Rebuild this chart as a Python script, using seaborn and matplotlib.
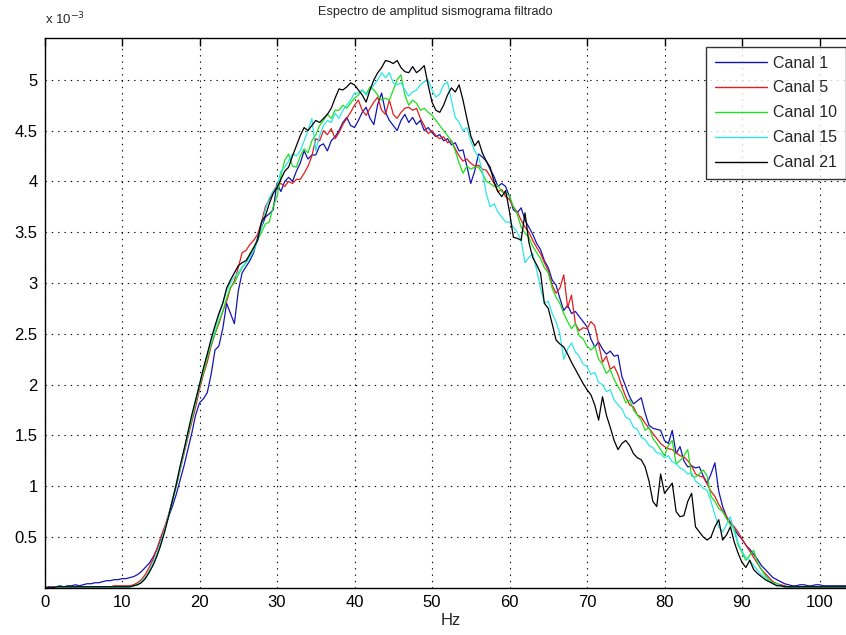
import numpy as np
import pandas as pd
import matplotlib
matplotlib.use("Agg")
import matplotlib.pyplot as plt
import seaborn as sns

# Amplitude spectrum of filtered seismogram (units of 1e-3)
freq_hz = np.arange(0, 104.5, 0.5)
channel_names = ["Canal 1", "Canal 5", "Canal 10", "Canal 15", "Canal 21"]
channel_colors = ["#1414b4", "#e01e1e", "#1ee01e", "#2ee6e6", "#000000"]

canal_1 = [
    0.00, 0.01, 0.01, 0.01, 0.02, 0.01, 0.02, 0.02, 0.03, 0.02, 0.03, 0.04, 0.04, 0.05, 0.05, 0.06, 0.07, 0.07, 0.08, 0.08,
    0.09, 0.09, 0.10, 0.11, 0.13, 0.16, 0.20, 0.24, 0.30, 0.38, 0.47, 0.58, 0.70, 0.80, 0.92, 1.06, 1.20, 1.36, 1.52, 1.70,
    1.82, 1.86, 1.92, 2.10, 2.34, 2.38, 2.55, 2.80, 2.70, 2.60, 2.92, 3.10, 3.16, 3.22, 3.30, 3.45, 3.55, 3.65, 3.68, 3.72,
    3.98, 3.90, 4.00, 4.04, 4.00, 4.10, 4.18, 4.30, 4.22, 4.26, 4.26, 4.35, 4.37, 4.30, 4.40, 4.44, 4.50, 4.58, 4.63, 4.55,
    4.53, 4.60, 4.68, 4.73, 4.62, 4.56, 4.76, 4.87, 4.68, 4.60, 4.55, 4.50, 4.60, 4.66, 4.58, 4.63, 4.56, 4.60, 4.50, 4.53,
    4.48, 4.44, 4.46, 4.40, 4.42, 4.36, 4.38, 4.30, 4.31, 4.15, 3.98, 4.10, 4.27, 4.24, 4.20, 4.12, 4.05, 3.95, 3.98, 3.95,
    3.85, 3.72, 3.69, 3.74, 3.62, 3.55, 3.48, 3.39, 3.33, 3.22, 3.15, 3.03, 2.98, 2.85, 2.73, 2.78, 2.70, 2.72, 2.67, 2.62,
    2.57, 2.45, 2.37, 2.42, 2.35, 2.30, 2.33, 2.28, 2.29, 2.08, 1.98, 1.88, 1.81, 1.84, 1.87, 1.72, 1.60, 1.57, 1.56, 1.55,
    1.45, 1.42, 1.55, 1.32, 1.39, 1.25, 1.19, 1.20, 1.18, 1.19, 1.10, 1.03, 1.12, 1.23, 0.95, 0.80, 0.70, 0.63, 0.58, 0.52,
    0.48, 0.42, 0.38, 0.33, 0.28, 0.22, 0.18, 0.14, 0.10, 0.08, 0.06, 0.04, 0.03, 0.02, 0.02, 0.03, 0.03, 0.02, 0.02, 0.03,
    0.03, 0.02, 0.02, 0.02, 0.02, 0.02, 0.02, 0.02, 0.02,
]
canal_5 = [
    0.00, 0.00, 0.01, 0.01, 0.01, 0.01, 0.01, 0.01, 0.01, 0.01, 0.01, 0.01, 0.01, 0.01, 0.01, 0.01, 0.01, 0.01, 0.02, 0.02,
    0.02, 0.02, 0.02, 0.03, 0.05, 0.08, 0.13, 0.20, 0.28, 0.38, 0.50, 0.60, 0.72, 0.86, 1.00, 1.16, 1.32, 1.48, 1.63, 1.78,
    1.95, 2.10, 2.22, 2.38, 2.50, 2.60, 2.72, 2.82, 2.95, 3.02, 3.15, 3.30, 3.32, 3.38, 3.42, 3.48, 3.60, 3.75, 3.82, 3.90,
    3.96, 3.98, 3.95, 4.00, 3.98, 4.02, 4.02, 4.08, 4.15, 4.25, 4.42, 4.40, 4.50, 4.46, 4.52, 4.42, 4.48, 4.56, 4.62, 4.68,
    4.75, 4.80, 4.70, 4.65, 4.72, 4.78, 4.83, 4.70, 4.66, 4.80, 4.66, 4.62, 4.68, 4.72, 4.73, 4.70, 4.72, 4.62, 4.55, 4.47,
    4.50, 4.45, 4.42, 4.44, 4.38, 4.40, 4.32, 4.25, 4.20, 4.22, 4.18, 4.15, 4.16, 4.12, 4.11, 4.05, 3.98, 3.90, 3.92, 3.85,
    3.82, 3.75, 3.70, 3.62, 3.55, 3.50, 3.42, 3.35, 3.29, 3.20, 3.12, 2.98, 2.90, 2.95, 3.08, 2.76, 2.88, 2.60, 2.53, 2.56,
    2.55, 2.62, 2.58, 2.40, 2.22, 2.28, 2.15, 2.18, 2.10, 1.98, 1.88, 1.80, 1.78, 1.70, 1.68, 1.62, 1.57, 1.52, 1.47, 1.42,
    1.39, 1.37, 1.36, 1.33, 1.30, 1.29, 1.25, 1.20, 1.12, 1.10, 1.09, 1.02, 0.95, 0.90, 0.82, 0.76, 0.70, 0.65, 0.60, 0.55,
    0.48, 0.42, 0.36, 0.30, 0.24, 0.18, 0.14, 0.10, 0.06, 0.04, 0.03, 0.02, 0.01, 0.01, 0.01, 0.01, 0.01, 0.01, 0.01, 0.01,
    0.01, 0.01, 0.01, 0.01, 0.01, 0.01, 0.01, 0.01, 0.01,
]
canal_10 = [
    0.00, 0.00, 0.00, 0.01, 0.01, 0.01, 0.01, 0.01, 0.01, 0.01, 0.01, 0.01, 0.01, 0.01, 0.01, 0.01, 0.01, 0.01, 0.01, 0.01,
    0.01, 0.01, 0.01, 0.02, 0.03, 0.06, 0.10, 0.16, 0.24, 0.33, 0.44, 0.56, 0.70, 0.85, 1.00, 1.17, 1.34, 1.50, 1.66, 1.82,
    1.98, 2.12, 2.26, 2.40, 2.50, 2.62, 2.72, 2.85, 2.96, 3.00, 3.08, 3.15, 3.20, 3.29, 3.35, 3.42, 3.50, 3.58, 3.60, 3.75,
    3.85, 4.05, 4.21, 4.27, 4.15, 4.14, 4.25, 4.32, 4.28, 4.40, 4.46, 4.55, 4.60, 4.66, 4.62, 4.70, 4.70, 4.75, 4.72, 4.77,
    4.82, 4.85, 4.90, 4.86, 4.93, 4.90, 4.85, 4.80, 4.82, 4.80, 4.90, 5.00, 5.05, 4.85, 4.75, 4.80, 4.77, 4.70, 4.72, 4.68,
    4.65, 4.60, 4.55, 4.50, 4.45, 4.40, 4.30, 4.18, 4.08, 4.15, 4.12, 4.14, 4.14, 4.08, 4.00, 3.98, 3.95, 3.96, 3.90, 3.88,
    3.86, 3.75, 3.68, 3.55, 3.49, 3.45, 3.36, 3.30, 3.24, 3.15, 3.10, 2.95, 2.86, 2.80, 2.70, 2.62, 2.55, 2.60, 2.48, 2.45,
    2.38, 2.34, 2.38, 2.25, 2.20, 2.11, 2.15, 2.05, 1.98, 1.92, 1.82, 1.85, 1.75, 1.70, 1.65, 1.55, 1.58, 1.47, 1.42, 1.36,
    1.30, 1.40, 1.45, 1.22, 1.25, 1.30, 1.36, 1.10, 1.09, 1.12, 1.16, 1.10, 0.90, 0.85, 0.78, 0.75, 0.68, 0.62, 0.58, 0.42,
    0.35, 0.27, 0.32, 0.37, 0.25, 0.18, 0.12, 0.08, 0.05, 0.04, 0.02, 0.01, 0.01, 0.01, 0.01, 0.01, 0.01, 0.01, 0.01, 0.01,
    0.01, 0.01, 0.01, 0.01, 0.01, 0.01, 0.01, 0.01, 0.01,
]
canal_15 = [
    0.00, 0.00, 0.00, 0.01, 0.01, 0.01, 0.01, 0.01, 0.01, 0.01, 0.01, 0.01, 0.01, 0.01, 0.01, 0.01, 0.01, 0.01, 0.01, 0.01,
    0.01, 0.01, 0.01, 0.02, 0.03, 0.06, 0.10, 0.16, 0.24, 0.33, 0.45, 0.57, 0.71, 0.86, 1.02, 1.18, 1.35, 1.52, 1.68, 1.84,
    2.00, 2.15, 2.30, 2.42, 2.55, 2.68, 2.80, 2.92, 3.00, 3.06, 3.10, 3.16, 3.20, 3.25, 3.32, 3.42, 3.55, 3.72, 3.84, 3.90,
    3.95, 4.10, 4.14, 4.20, 4.27, 4.25, 4.30, 4.40, 4.50, 4.62, 4.30, 4.45, 4.55, 4.60, 4.58, 4.67, 4.62, 4.70, 4.75, 4.80,
    4.87, 4.87, 4.90, 4.85, 4.90, 4.95, 5.00, 5.07, 5.02, 5.07, 4.97, 4.95, 4.97, 4.90, 4.84, 4.88, 4.90, 4.95, 4.98, 5.00,
    4.90, 4.83, 4.86, 4.95, 4.98, 4.80, 4.63, 4.58, 4.50, 4.53, 4.40, 4.30, 4.24, 4.10, 3.88, 3.75, 3.78, 3.70, 3.65, 3.60,
    3.60, 3.55, 3.50, 3.42, 3.20, 3.25, 3.29, 3.13, 2.95, 2.80, 2.82, 2.70, 2.62, 2.50, 2.25, 2.35, 2.41, 2.32, 2.28, 2.20,
    2.18, 2.10, 2.12, 2.02, 2.00, 1.93, 1.95, 1.85, 1.80, 1.76, 1.68, 1.66, 1.58, 1.56, 1.48, 1.46, 1.40, 1.38, 1.33, 1.32,
    1.28, 1.30, 1.24, 1.22, 1.18, 1.16, 1.12, 1.13, 1.05, 1.02, 0.98, 0.96, 0.85, 0.72, 0.60, 0.55, 0.62, 0.70, 0.55, 0.44,
    0.36, 0.30, 0.27, 0.22, 0.17, 0.13, 0.10, 0.07, 0.04, 0.03, 0.02, 0.01, 0.01, 0.01, 0.01, 0.01, 0.01, 0.01, 0.01, 0.01,
    0.01, 0.01, 0.01, 0.01, 0.01, 0.01, 0.01, 0.01, 0.01,
]
canal_21 = [
    0.00, 0.00, 0.00, 0.01, 0.01, 0.01, 0.01, 0.01, 0.01, 0.01, 0.01, 0.01, 0.01, 0.01, 0.01, 0.01, 0.01, 0.01, 0.01, 0.01,
    0.01, 0.01, 0.01, 0.02, 0.03, 0.05, 0.09, 0.15, 0.22, 0.31, 0.42, 0.55, 0.70, 0.86, 1.02, 1.20, 1.36, 1.53, 1.70, 1.85,
    2.00, 2.16, 2.30, 2.45, 2.58, 2.70, 2.80, 2.95, 3.03, 3.10, 3.17, 3.20, 3.22, 3.28, 3.35, 3.42, 3.60, 3.66, 3.78, 3.88,
    3.94, 4.02, 4.10, 4.14, 4.25, 4.35, 4.45, 4.53, 4.50, 4.55, 4.60, 4.58, 4.62, 4.66, 4.72, 4.82, 4.91, 4.90, 4.93, 4.97,
    4.95, 4.90, 4.85, 4.78, 4.90, 5.00, 5.07, 5.12, 5.19, 5.18, 5.16, 5.19, 5.12, 5.08, 5.07, 5.13, 5.07, 5.10, 5.14, 4.95,
    4.78, 4.70, 4.68, 4.75, 4.85, 4.92, 4.88, 4.95, 4.80, 4.62, 4.45, 4.35, 4.40, 4.28, 4.20, 4.14, 4.00, 3.90, 3.85, 3.91,
    3.70, 3.45, 3.44, 3.42, 3.69, 3.40, 3.25, 3.18, 3.10, 2.80, 2.75, 2.60, 2.44, 2.40, 2.37, 2.30, 2.22, 2.15, 2.08, 2.01,
    1.95, 1.90, 1.80, 1.65, 1.88, 1.70, 1.58, 1.45, 1.36, 1.42, 1.45, 1.40, 1.32, 1.28, 1.26, 1.19, 1.05, 0.85, 0.80, 1.12,
    0.93, 0.98, 1.03, 0.75, 0.70, 0.71, 0.85, 0.93, 0.60, 0.55, 0.50, 0.47, 0.50, 0.60, 0.67, 0.47, 0.52, 0.60, 0.45, 0.34,
    0.25, 0.20, 0.27, 0.18, 0.14, 0.11, 0.08, 0.06, 0.04, 0.02, 0.02, 0.01, 0.01, 0.01, 0.01, 0.01, 0.01, 0.01, 0.01, 0.01,
    0.01, 0.01, 0.01, 0.01, 0.01, 0.01, 0.01, 0.01, 0.01,
]

series = [canal_1, canal_5, canal_10, canal_15, canal_21]
for s in series:
    assert len(s) == len(freq_hz), len(s)

df = pd.DataFrame({
    "Hz": np.tile(freq_hz, len(series)),
    "amp": np.concatenate([np.asarray(s) for s in series]),
    "canal": np.repeat(channel_names, len(freq_hz)),
})

sns.set_style("white")
plt.rcParams["font.family"] = ["Liberation Sans", "DejaVu Sans"]

fig = plt.figure(figsize=(8.46, 6.35), dpi=100)
W, H = 846, 635
x0, y_bot, y_top = 44.5, 587.8, 38.0
ax_w = 811.5  # right spine falls just outside the canvas, as in the reference
ax = fig.add_axes([x0 / W, (H - y_bot) / H, ax_w / W, (y_bot - y_top) / H])

sns.lineplot(data=df, x="Hz", y="amp", hue="canal", hue_order=channel_names,
             palette=dict(zip(channel_names, channel_colors)), estimator=None,
             sort=False, linewidth=0.9, ax=ax)

ax.set_xlim(0, ax_w / 7.75)
ax.set_ylim(0, (y_bot - y_top) / 101.6)
ax.set_xticks(np.arange(0, 101, 10))
ax.set_yticks([0.5, 1, 1.5, 2, 2.5, 3, 3.5, 4, 4.5, 5])
ax.set_yticklabels(["0.5", "1", "1.5", "2", "2.5", "3", "3.5", "4", "4.5", "5"])
ax.tick_params(direction="in", length=6, width=1, top=True, right=True,
               labelsize=12, colors="black", pad=5)
ax.grid(True, color="black", linestyle=(0, (1.2, 4.5)), linewidth=0.8)
for sp in ax.spines.values():
    sp.set_color("black")
    sp.set_linewidth(1.0)
ax.set_xlabel("Hz", fontsize=12, labelpad=2)
ax.set_ylabel("")

handles, labels = ax.get_legend_handles_labels()
leg = ax.legend(handles, labels, loc="upper right", bbox_to_anchor=(0.9877, 0.984),
                borderaxespad=0, fontsize=11.5, handlelength=3.3, handletextpad=0.36,
                labelspacing=0.62, borderpad=0.55, frameon=True, fancybox=False)
leg.get_frame().set_edgecolor("black")
leg.get_frame().set_linewidth(1.0)
for line in leg.get_lines():
    line.set_linewidth(1.0)

fig.text(435 / W, 1 - 12 / H, "Espectro de amplitud sismograma filtrado",
         ha="center", va="center", fontsize=9.2)
fig.text(45 / W, 1 - 19 / H, r"x 10$^{-3}$", ha="left", va="center", fontsize=9.5)

fig.savefig("out.png", dpi=100)
